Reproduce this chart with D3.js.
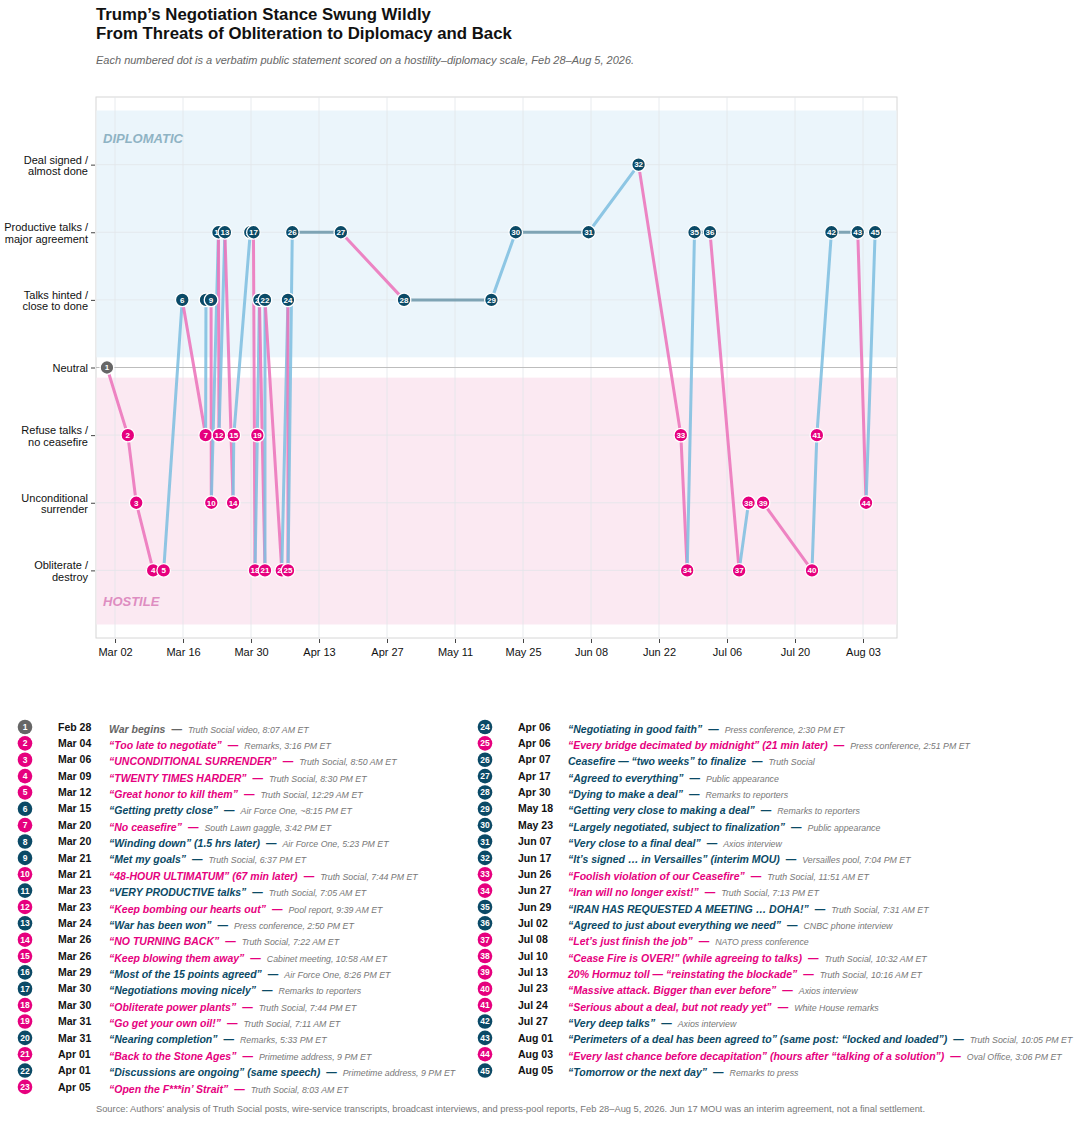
<!DOCTYPE html>
<html>
<head>
<meta charset="utf-8">
<script src="https://cdn.jsdelivr.net/npm/d3@7"></script>
<style>
  body { margin: 0; background: #fff; }
  svg { display: block; font-family: "Liberation Sans", Arial, sans-serif; }
</style>
</head>
<body>
<svg id="chart" width="1080" height="1121"></svg>
<script>
// Statement timestamps (ET), score and legend text, one entry per numbered dot
const stamps = [
  '2026-02-28T08:07', '2026-03-04T15:16', '2026-03-06T08:50', '2026-03-09T20:30', '2026-03-12T00:29',
  '2026-03-15T20:15', '2026-03-20T15:42', '2026-03-20T17:23', '2026-03-21T18:37', '2026-03-21T19:44',
  '2026-03-23T07:05', '2026-03-23T09:39', '2026-03-24T14:50', '2026-03-26T07:22', '2026-03-26T10:58',
  '2026-03-29T20:26', '2026-03-30T12:00', '2026-03-30T19:44', '2026-03-31T07:11', '2026-03-31T17:33',
  '2026-04-01T21:00', '2026-04-01T21:00', '2026-04-05T08:03', '2026-04-06T14:30', '2026-04-06T14:51',
  '2026-04-07T12:00', '2026-04-17T12:00', '2026-04-30T12:00', '2026-05-18T12:00', '2026-05-23T12:00',
  '2026-06-07T12:00', '2026-06-17T19:04', '2026-06-26T11:51', '2026-06-27T19:13', '2026-06-29T07:31',
  '2026-07-02T12:00', '2026-07-08T12:00', '2026-07-10T10:32', '2026-07-13T10:16', '2026-07-23T12:00',
  '2026-07-24T12:00', '2026-07-27T12:00', '2026-08-01T22:05', '2026-08-03T15:06', '2026-08-05T12:00'
];

const scores = [
  0, -1, -2, -3, -3, 1, -1, 1, 1, -2,
  2, -1, 2, -2, -1, 2, 2, -3, -1, 1,
  -3, 1, -3, 1, -3, 2, 2, 1, 1, 2,
  2, 3, -1, -3, 2, 2, -3, -2, -2, -3,
  -1, 2, 2, -2, 2
];

const quotes = [
  'War begins', '“Too late to negotiate”', '“UNCONDITIONAL SURRENDER”', '“TWENTY TIMES HARDER”',
  '“Great honor to kill them”', '“Getting pretty close”', '“No ceasefire”', '“Winding down” (1.5 hrs later)',
  '“Met my goals”', '“48-HOUR ULTIMATUM” (67 min later)', '“VERY PRODUCTIVE talks”',
  '“Keep bombing our hearts out”', '“War has been won”', '“NO TURNING BACK”', '“Keep blowing them away”',
  '“Most of the 15 points agreed”', '“Negotiations moving nicely”', '“Obliterate power plants”',
  '“Go get your own oil!”', '“Nearing completion”', '“Back to the Stone Ages”',
  '“Discussions are ongoing” (same speech)', '“Open the F***in’ Strait”', '“Negotiating in good faith”',
  '“Every bridge decimated by midnight” (21 min later)', 'Ceasefire — “two weeks” to finalize',
  '“Agreed to everything”', '“Dying to make a deal”', '“Getting very close to making a deal”',
  '“Largely negotiated, subject to finalization”', '“Very close to a final deal”',
  '“It’s signed … in Versailles” (interim MOU)', '“Foolish violation of our Ceasefire”',
  '“Iran will no longer exist!”', '“IRAN HAS REQUESTED A MEETING … DOHA!”',
  '“Agreed to just about everything we need”', '“Let’s just finish the job”',
  '“Cease Fire is OVER!” (while agreeing to talks)', '20% Hormuz toll — “reinstating the blockade”',
  '“Massive attack. Bigger than ever before”', '“Serious about a deal, but not ready yet”',
  '“Very deep talks”', '“Perimeters of a deal has been agreed to” (same post: “locked and loaded”)',
  '“Every last chance before decapitation” (hours after “talking of a solution”)',
  '“Tomorrow or the next day”'
];

const sources = [
  'Truth Social video, 8:07 AM ET', 'Remarks, 3:16 PM ET', 'Truth Social, 8:50 AM ET',
  'Truth Social, 8:30 PM ET', 'Truth Social, 12:29 AM ET', 'Air Force One, ~8:15 PM ET',
  'South Lawn gaggle, 3:42 PM ET', 'Air Force One, 5:23 PM ET', 'Truth Social, 6:37 PM ET',
  'Truth Social, 7:44 PM ET', 'Truth Social, 7:05 AM ET', 'Pool report, 9:39 AM ET',
  'Press conference, 2:50 PM ET', 'Truth Social, 7:22 AM ET', 'Cabinet meeting, 10:58 AM ET',
  'Air Force One, 8:26 PM ET', 'Remarks to reporters', 'Truth Social, 7:44 PM ET',
  'Truth Social, 7:11 AM ET', 'Remarks, 5:33 PM ET', 'Primetime address, 9 PM ET',
  'Primetime address, 9 PM ET', 'Truth Social, 8:03 AM ET', 'Press conference, 2:30 PM ET',
  'Press conference, 2:51 PM ET', 'Truth Social', 'Public appearance', 'Remarks to reporters',
  'Remarks to reporters', 'Public appearance', 'Axios interview', 'Versailles pool, 7:04 PM ET',
  'Truth Social, 11:51 AM ET', 'Truth Social, 7:13 PM ET', 'Truth Social, 7:31 AM ET',
  'CNBC phone interview', 'NATO press conference', 'Truth Social, 10:32 AM ET',
  'Truth Social, 10:16 AM ET', 'Axios interview', 'White House remarks', 'Axios interview',
  'Truth Social, 10:05 PM ET', 'Oval Office, 3:06 PM ET', 'Remarks to press'
];

// Scale levels and their labels
const levels = [3, 2, 1, 0, -1, -2, -3];
const levelLabels = [
  ['Deal signed /', 'almost done'],
  ['Productive talks /', 'major agreement'],
  ['Talks hinted /', 'close to done'],
  ['Neutral'],
  ['Refuse talks /', 'no ceasefire'],
  ['Unconditional', 'surrender'],
  ['Obliterate /', 'destroy']
];

// Fortnightly tick dates
const tickDates = ['2026-03-02', '2026-03-16', '2026-03-30', '2026-04-13', '2026-04-27', '2026-05-11',
  '2026-05-25', '2026-06-08', '2026-06-22', '2026-07-06', '2026-07-20', '2026-08-03'];

const COLORS = {
  diplo: '#0b4a66',
  hostile: '#e6007e',
  neutral: '#666666',
  up: '#7fbfe0',
  down: '#ec74bb',
  flat: '#6f98ab'
};

const parse = d3.timeParse('%Y-%m-%dT%H:%M');
const parseDay = d3.timeParse('%Y-%m-%d');
const fmtDay = d3.timeFormat('%b %d');

const points = stamps.map((s, i) => ({
  id: i + 1,
  date: parse(s),
  score: scores[i],
  quote: quotes[i],
  source: sources[i]
}));

const dotColor = s => s > 0 ? COLORS.diplo : s < 0 ? COLORS.hostile : COLORS.neutral;

const svg = d3.select('#chart');

// Title block
svg.append('text')
  .attr('x', 96).attr('y', 20)
  .attr('font-size', '16.8px').attr('font-weight', 700).attr('fill', '#111')
  .text('Trump’s Negotiation Stance Swung Wildly');
svg.append('text')
  .attr('x', 96).attr('y', 39)
  .attr('font-size', '16.8px').attr('font-weight', 700).attr('fill', '#111')
  .text('From Threats of Obliteration to Diplomacy and Back');
svg.append('text')
  .attr('x', 96).attr('y', 64)
  .attr('font-size', '11px').attr('font-style', 'italic').attr('fill', '#666')
  .text('Each numbered dot is a verbatim public statement scored on a hostility–diplomacy scale, Feb 28–Aug 5, 2026.');

// Plot area
const margin = { left: 96, top: 97, right: 897, bottom: 638 };
const x = d3.scaleTime()
  .domain([parse('2026-02-26T02:00'), parse('2026-08-10T00:00')])
  .range([margin.left, margin.right]);
const y = d3.scaleLinear()
  .domain([-4, 4])
  .range([margin.bottom, margin.top]);

const plot = svg.append('g');

plot.append('rect')
  .attr('x', margin.left).attr('y', margin.top)
  .attr('width', margin.right - margin.left).attr('height', margin.bottom - margin.top)
  .attr('fill', '#fff').attr('stroke', '#d6d6d6');

// Diplomatic and hostile bands
plot.append('rect')
  .attr('x', margin.left + 0.5).attr('y', y(3.8))
  .attr('width', margin.right - margin.left - 1).attr('height', y(0.15) - y(3.8))
  .attr('fill', '#ebf5fb');
plot.append('rect')
  .attr('x', margin.left + 0.5).attr('y', y(-0.15))
  .attr('width', margin.right - margin.left - 1).attr('height', y(-3.8) - y(-0.15))
  .attr('fill', '#fbe9f2');

// Grid
plot.append('g')
  .selectAll('line')
  .data(tickDates.map(parseDay))
  .join('line')
  .attr('x1', d => x(d)).attr('x2', d => x(d))
  .attr('y1', margin.top).attr('y2', margin.bottom)
  .attr('stroke', '#e2e6ea').attr('stroke-width', 0.8);
plot.append('g')
  .selectAll('line')
  .data(levels.filter(l => l !== 0))
  .join('line')
  .attr('x1', margin.left).attr('x2', margin.right)
  .attr('y1', d => y(d)).attr('y2', d => y(d))
  .attr('stroke', '#e2e6ea').attr('stroke-width', 0.8);
plot.append('line')
  .attr('x1', margin.left).attr('x2', margin.right)
  .attr('y1', y(0)).attr('y2', y(0))
  .attr('stroke', '#bdbdbd').attr('stroke-width', 1);

plot.append('text')
  .attr('x', 103).attr('y', y(3.32))
  .attr('font-size', '13px').attr('font-weight', 700).attr('font-style', 'italic')
  .attr('fill', '#8fb3c4')
  .text('DIPLOMATIC');
plot.append('text')
  .attr('x', 103).attr('y', y(-3.52))
  .attr('font-size', '13px').attr('font-weight', 700).attr('font-style', 'italic')
  .attr('fill', '#de8dc1')
  .text('HOSTILE');

// Axes
const xAxis = d3.axisBottom(x)
  .tickValues(tickDates.map(parseDay))
  .tickFormat(fmtDay)
  .tickSize(4)
  .tickPadding(5);
const gx = svg.append('g')
  .attr('transform', `translate(0,${margin.bottom + 1})`)
  .call(xAxis);
gx.select('.domain').remove();
gx.selectAll('text').attr('font-size', '11px').attr('fill', '#111')
  .attr('font-family', '"Liberation Sans", Arial, sans-serif');
gx.selectAll('line').attr('stroke', '#444');

const yAxis = d3.axisLeft(y).tickValues(levels).tickSize(4).tickFormat('');
const gy = svg.append('g')
  .attr('transform', `translate(${margin.left - 1},0)`)
  .call(yAxis);
gy.select('.domain').remove();
gy.selectAll('line').attr('stroke', '#444');

svg.append('g')
  .selectAll('text')
  .data(levels)
  .join('text')
  .attr('x', 88)
  .attr('y', (d, i) => y(d) + (levelLabels[i].length === 1 ? 4 : -1))
  .attr('text-anchor', 'end')
  .attr('font-size', '11px')
  .attr('fill', '#111')
  .each(function (d, i) {
    const t = d3.select(this);
    levelLabels[i].forEach((line, j) => {
      t.append('tspan').attr('x', 88).attr('dy', j === 0 ? 0 : 11.5).text(line);
    });
  });

// Line segments coloured by direction of the swing
const segments = d3.pairs(points);
plot.append('g')
  .selectAll('line')
  .data(segments)
  .join('line')
  .attr('x1', d => x(d[0].date)).attr('y1', d => y(d[0].score))
  .attr('x2', d => x(d[1].date)).attr('y2', d => y(d[1].score))
  .attr('stroke', d => d[1].score > d[0].score ? COLORS.up
    : d[1].score < d[0].score ? COLORS.down : COLORS.flat)
  .attr('stroke-width', 3)
  .attr('stroke-opacity', 0.88)
  .attr('stroke-linecap', 'round');

// Numbered dots
const dots = plot.append('g')
  .selectAll('g')
  .data(points)
  .join('g')
  .attr('transform', d => `translate(${x(d.date)},${y(d.score)})`);
dots.append('circle')
  .attr('r', 6.8)
  .attr('fill', d => dotColor(d.score))
  .attr('stroke', '#fff')
  .attr('stroke-width', 1.3);
dots.append('text')
  .attr('text-anchor', 'middle')
  .attr('dy', '0.35em')
  .attr('font-size', '8px')
  .attr('font-weight', 700)
  .attr('fill', '#fff')
  .text(d => d.id);

// Legend, two columns
const rowStep = 16.36;
const cols = [
  { items: points.slice(0, 23), dot: 25, date: 58, text: 109 },
  { items: points.slice(23), dot: 485, date: 518, text: 568 }
];
cols.forEach(col => {
  const rows = svg.append('g')
    .selectAll('g')
    .data(col.items)
    .join('g')
    .attr('transform', (d, i) => `translate(0,${727 + i * rowStep})`);

  rows.append('circle')
    .attr('cx', col.dot).attr('r', 7.3)
    .attr('fill', d => dotColor(d.score));
  rows.append('text')
    .attr('x', col.dot).attr('dy', '0.35em')
    .attr('text-anchor', 'middle')
    .attr('font-size', '8.5px').attr('font-weight', 700).attr('fill', '#fff')
    .text(d => d.id);
  rows.append('text')
    .attr('x', col.date).attr('dy', '0.35em')
    .attr('font-size', '10.5px').attr('font-weight', 700).attr('fill', '#111')
    .text(d => fmtDay(d.date));

  const label = rows.append('text')
    .attr('x', col.text).attr('dy', '0.35em');
  label.append('tspan')
    .attr('font-size', '10.5px').attr('font-weight', 700).attr('font-style', 'italic')
    .attr('fill', d => dotColor(d.score))
    .text(d => d.quote);
  label.append('tspan')
    .attr('dx', 6)
    .attr('font-size', '10.5px').attr('font-weight', 700)
    .attr('fill', d => dotColor(d.score))
    .text('—');
  label.append('tspan')
    .attr('dx', 6)
    .attr('font-size', '8.8px').attr('font-style', 'italic')
    .attr('fill', '#777')
    .text(d => d.source);
});

svg.append('text')
  .attr('x', 96).attr('y', 1112)
  .attr('font-size', '9.3px').attr('fill', '#777')
  .text('Source: Authors’ analysis of Truth Social posts, wire-service transcripts, broadcast interviews, and press-pool reports, Feb 28–Aug 5, 2026. Jun 17 MOU was an interim agreement, not a final settlement.');
</script>
</body>
</html>
